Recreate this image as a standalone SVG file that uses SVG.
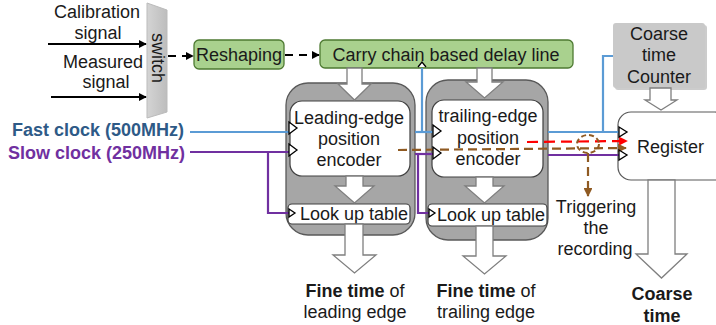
<svg xmlns="http://www.w3.org/2000/svg" width="716" height="325" viewBox="0 0 716 325">
<defs>
<style>
text{font-family:"Liberation Sans",Arial,sans-serif;font-size:18px;fill:#1a1a1a}
.c{text-anchor:middle}
.b{font-weight:bold}
.green{fill:#a9d18e;stroke:#4e7a32;stroke-width:1.3}
.grayblk{fill:#a6a6a6;stroke:#595959;stroke-width:1.3}
.white{fill:#fff;stroke:#404040;stroke-width:1.2}
.barrow{fill:#fff;stroke:#7f7f7f;stroke-width:1.3}
.clk{fill:#fff;stroke:#000;stroke-width:1.3}
.blue{fill:none;stroke:#5b9bd5;stroke-width:2.2}
.purple{fill:none;stroke:#7030a0;stroke-width:2.2}
.blk{fill:none;stroke:#000;stroke-width:2}
.dash{fill:none;stroke:#000;stroke-width:2;stroke-dasharray:8 6}
.brown{fill:none;stroke:#8f5a22;stroke-width:2.2;stroke-dasharray:9 5}
.red{fill:none;stroke:#ff0000;stroke-width:2.2;stroke-dasharray:11 6}
</style>
<marker id="ah" viewBox="0 0 10 10" refX="9" refY="5" markerWidth="4" markerHeight="4" orient="auto"><path d="M0,0 L10,5 L0,10 z" fill="#000"/></marker>
<marker id="ahr" viewBox="0 0 10 10" refX="9" refY="5" markerWidth="4" markerHeight="4" orient="auto"><path d="M0,0 L10,5 L0,10 z" fill="#ff0000"/></marker>
<marker id="ahb" viewBox="0 0 10 10" refX="9" refY="5" markerWidth="4" markerHeight="4" orient="auto"><path d="M0,0 L10,5 L0,10 z" fill="#8f5a22"/></marker>
<linearGradient id="sw" x1="0" x2="1" y1="0" y2="0"><stop offset="0" stop-color="#d4d4d4"/><stop offset="1" stop-color="#bdbdbd"/></linearGradient>
</defs>

<g id="inputs">
<text class="c" x="97" y="18">Calibration</text>
<text class="c" x="98" y="39">signal</text>
<text class="c" x="103" y="68">Measured</text>
<text class="c" x="106" y="88">signal</text>
</g>

<g id="switch">
<path d="M147,3 L167,10 L167,112 L147,118 z" fill="url(#sw)" stroke="#bbb" stroke-width="1"/>
<text class="c" transform="translate(152,58) rotate(90)">switch</text>
</g>

<g id="reshaping">
<rect class="green" x="194" y="40" width="90" height="29" rx="5"/>
<text class="c" x="239" y="61">Reshaping</text>
</g>

<g id="carry">
<rect class="green" x="320" y="40" width="253" height="28" rx="5"/>
<text class="c" x="446" y="61">Carry chain based delay line</text>
</g>

<g id="leading">
<rect class="grayblk" x="286" y="83" width="129" height="152" rx="22"/>
<rect class="white" x="290" y="101" width="120" height="75" rx="12"/>
<text class="c" x="349" y="124">Leading-edge</text>
<text class="c" x="349" y="145">position</text>
<text class="c" x="349" y="166">encoder</text>
<rect class="white" x="288" y="204" width="122" height="20" rx="4"/>
<text class="c" x="354" y="220">Look up table</text>
</g>

<g id="trailing">
<rect class="grayblk" x="426" y="80" width="122" height="160" rx="22"/>
<rect class="white" x="432" y="100" width="111" height="77" rx="12"/>
<text class="c" x="488" y="122">trailing-edge</text>
<text class="c" x="488" y="144">position</text>
<text class="c" x="488" y="165">encoder</text>
<rect class="white" x="428" y="204" width="119" height="22" rx="4"/>
<text class="c" x="491" y="221">Look up table</text>
</g>

<g id="counter">
<rect x="615" y="25" width="92" height="65" rx="3" fill="#9a9a9a" opacity="0.5"/>
<rect x="613" y="23" width="92" height="65" rx="3" fill="#c9c9c9"/>
<text class="c" x="659" y="40">Coarse</text>
<text class="c" x="659" y="61">time</text>
<text class="c" x="659" y="83">Counter</text>
</g>

<g id="register">
<rect x="618" y="112" width="110" height="68" rx="13" fill="#fff" stroke="#595959" stroke-width="1.2"/>
<text x="637" y="153">Register</text>
</g>

<g id="clock-labels">
<text class="b" x="12" y="136" style="fill:#2e5a87">Fast clock (500MHz)</text>
<text class="b" x="8" y="159" style="fill:#7030a0">Slow clock (250MHz)</text>
</g>

<g id="outputs">
<text class="c" x="355" y="297"><tspan class="b">Fine time</tspan> of</text>
<text class="c" x="355" y="318">leading edge</text>
<text class="c" x="486" y="297"><tspan class="b">Fine time</tspan> of</text>
<text class="c" x="486" y="318">trailing edge</text>
<text class="c b" x="662" y="300">Coarse</text>
<text class="c b" x="662" y="322">time</text>
<text class="c" x="596" y="213">Triggering</text>
<text class="c" x="596" y="234">the</text>
<text class="c" x="595" y="255">recording</text>
</g>

<g id="connectors">
<line class="blk" x1="48" y1="44" x2="146" y2="44" marker-end="url(#ah)"/>
<line class="blk" x1="51" y1="97" x2="146" y2="97" marker-end="url(#ah)"/>
<line class="dash" x1="168" y1="56" x2="193" y2="56" marker-end="url(#ah)"/>
<line class="dash" x1="285" y1="55" x2="319" y2="55" marker-end="url(#ah)"/>

<path class="barrow" d="M347,68 L362,68 L362,84 L371,84 L354.5,100 L338,84 L347,84 z"/>
<path class="barrow" d="M477,68 L492,68 L492,82 L503,82 L484.5,98 L466,82 L477,82 z"/>
<path class="barrow" d="M346,176 L363,176 L363,186 L374,186 L354.5,203 L335,186 L346,186 z"/>
<path class="barrow" d="M476,177 L493,177 L493,186 L504,186 L484.5,203 L465,186 L476,186 z"/>
<path class="barrow" d="M345,224 L363,224 L363,255 L376,255 L354.5,273 L333,255 L345,255 z"/>
<path class="barrow" d="M476,226 L493,226 L493,256 L506,256 L484.5,274 L463,256 L476,256 z"/>
<path class="barrow" d="M650,88 L671,88 L671,100 L677,100 L661,110 L645,100 L650,100 z"/>
<path class="barrow" d="M648,180 L675,180 L675,254 L687,254 L661.5,278 L636,254 L648,254 z"/>

<polyline class="blue" points="190,132 289,132"/>
<polyline class="purple" points="190,152 289,152"/>
<polyline class="purple" points="268,152 268,213 289,213"/>
<polyline class="blue" points="415,132 433,132"/>
<polyline class="blue" points="422,132 422,68"/>
<polyline class="purple" points="415,154 433,154"/>
<polyline class="purple" points="418,154 418,213 429,213"/>
<polyline class="blue" points="548,132 619,132"/>
<polyline class="blue" points="603,132 603,56 613,56"/>
<polyline class="purple" points="548,155 619,155"/>
<line class="brown" x1="398" y1="150" x2="626" y2="148" marker-end="url(#ahb)"/>
<line class="red" x1="527" y1="142" x2="627" y2="141" marker-end="url(#ahr)"/>
<ellipse cx="588" cy="144" rx="11" ry="9" fill="none" stroke="#8f5a22" stroke-width="2" stroke-dasharray="5 3"/>
<line class="brown" x1="588" y1="153" x2="588" y2="196" stroke-dasharray="6 4" marker-end="url(#ahb)"/>

<path class="clk" d="M418,67 L422,62 L426,67"/>
<path class="clk" d="M289,122 L297,128 L289,134 z"/>
<path class="clk" d="M289,144 L297,150 L289,156 z"/>
<path class="clk" d="M289,209 L295,213 L289,217 z"/>
<path class="clk" d="M433,125 L441,131 L433,137 z"/>
<path class="clk" d="M433,147 L441,153 L433,159 z"/>
<path class="clk" d="M429,209 L435,213 L429,217 z"/>
<path class="clk" d="M619,127 L627,132 L619,137 z"/>
<path class="clk" d="M619,150 L627,155 L619,160 z"/>
</g>
</svg>
